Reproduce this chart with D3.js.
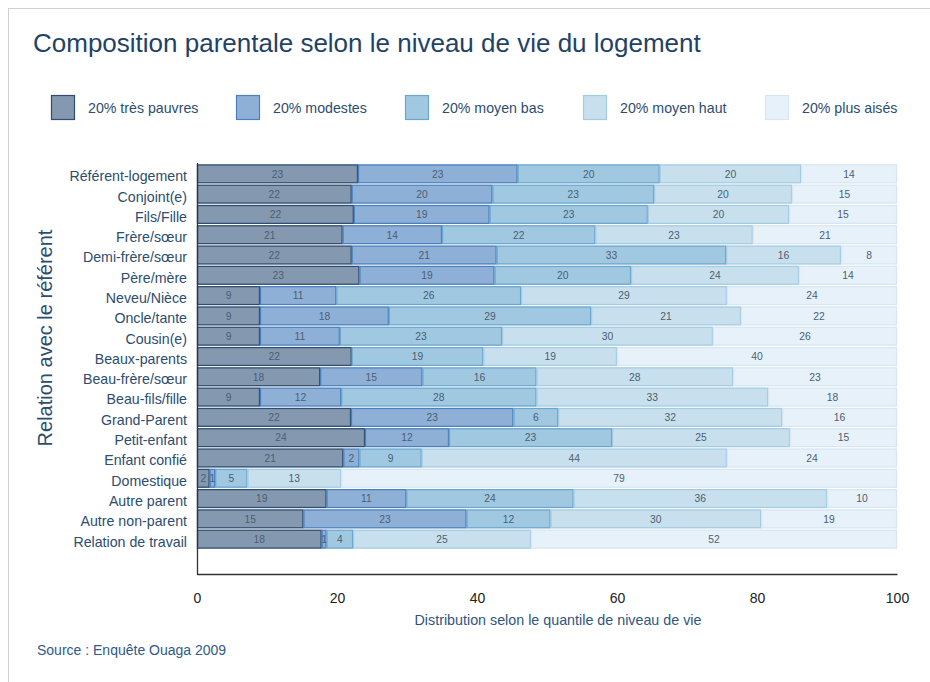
<!DOCTYPE html>
<html>
<head>
<meta charset="utf-8">
<script src="https://cdn.jsdelivr.net/npm/d3@7"></script>
<style>
  html, body { margin: 0; padding: 0; background: #fff; }
  svg { display: block; font-family: "Liberation Sans", Arial, sans-serif; }
</style>
</head>
<body>
<svg id="chart" width="930" height="682"></svg>
<script>
// Relationship to the household head
const categories = [
  "Référent-logement", "Conjoint(e)", "Fils/Fille", "Frère/sœur", "Demi-frère/sœur",
  "Père/mère", "Neveu/Nièce", "Oncle/tante", "Cousin(e)", "Beaux-parents",
  "Beau-frère/sœur", "Beau-fils/fille", "Grand-Parent", "Petit-enfant", "Enfant confié",
  "Domestique", "Autre parent", "Autre non-parent", "Relation de travail"
];

// Standard-of-living quintiles
const seriesNames = ["20% très pauvres", "20% modestes", "20% moyen bas", "20% moyen haut", "20% plus aisés"];

// Share (%) of each relationship group falling in each quintile
const tresPauvres = [23.0, 22.1, 22.4, 20.8, 22.1, 23.2, 9.0, 9.0, 9.0, 22.1, 17.6, 9.0, 22.0, 24.0, 20.9, 1.8, 18.5, 15.2, 17.8];
const modestes    = [22.8, 20.1, 19.4, 14.2, 20.7, 19.3, 10.9, 18.4, 11.4, 0.0, 14.6, 11.6, 23.2, 12.0, 2.3, 0.8, 11.4, 23.3, 0.7];
const moyenBas    = [20.3, 23.1, 22.6, 21.9, 32.8, 19.5, 26.4, 28.9, 23.2, 18.8, 16.3, 27.9, 6.4, 23.3, 8.9, 4.6, 23.9, 12.0, 3.8];
const moyenHaut   = [20.2, 19.7, 20.2, 22.5, 16.4, 24.0, 29.4, 21.4, 30.1, 19.1, 28.1, 33.1, 32.0, 25.4, 43.6, 13.4, 36.2, 30.1, 25.4];
const plusAises   = [13.7, 15.0, 15.4, 20.6, 8.0, 14.0, 24.3, 22.3, 26.3, 40.0, 23.4, 18.4, 16.4, 15.3, 24.3, 79.4, 10.0, 19.4, 52.3];

const xTicks = [0, 20, 40, 60, 80, 100];

const fills   = ["#8499b0", "#8fb0d6", "#a0c8e0", "#c8e0ee", "#e7f1f9"];
const strokes = ["#2e4d70", "#4a80bf", "#6aa6cf", "#a3cbe2", "#d6e6f2"];

const seriesValues = [tresPauvres, modestes, moyenBas, moyenHaut, plusAises];
const rows = categories.map((c, i) => {
  const r = { cat: c };
  seriesNames.forEach((s, k) => { r[s] = seriesValues[k][i]; });
  return r;
});
const stacked = d3.stack().keys(seriesNames)(rows);

const svg = d3.select("#chart");

// Card outline
svg.append("rect")
  .attr("x", 8.5).attr("y", 8.5)
  .attr("width", 940).attr("height", 700)
  .attr("fill", "none").attr("stroke", "#d0d0d0");

// Title
svg.append("text")
  .attr("x", 33).attr("y", 52)
  .attr("font-size", 26)
  .attr("fill", "#1f4266")
  .text("Composition parentale selon le niveau de vie du logement");

// Legend
const legendX = [51, 236, 405, 583, 765];
const legend = svg.append("g");
seriesNames.forEach((s, k) => {
  legend.append("rect")
    .attr("x", legendX[k] + 0.5).attr("y", 95.5)
    .attr("width", 23).attr("height", 24)
    .attr("fill", fills[k]).attr("stroke", strokes[k]).attr("stroke-width", 1.2);
  legend.append("text")
    .attr("x", legendX[k] + 37).attr("y", 113)
    .attr("font-size", 14.2).attr("fill", "#2c4d70")
    .text(s);
});

const x = d3.scaleLinear().domain([0, 100]).range([197, 897]);
const y = d3.scaleBand().domain(categories).range([164, 549]).paddingInner(0.07).paddingOuter(0.02);

// Stacked bars
const layers = svg.append("g").selectAll("g")
  .data(stacked).join("g")
  .attr("fill", (d, k) => fills[k])
  .attr("stroke", (d, k) => strokes[k]);

layers.selectAll("rect")
  .data(d => d.filter(p => p[1] - p[0] > 0))
  .join("rect")
  .attr("x", p => x(p[0]) + 0.5)
  .attr("y", p => y(p.data.cat) + 0.5)
  .attr("width", p => Math.max(0, x(p[1]) - x(p[0]) - 1))
  .attr("height", y.bandwidth() - 1)
  .attr("stroke-width", 1.3);

// Value labels
const labels = svg.append("g")
  .attr("font-size", 10.3).attr("fill", "#4b5e73").attr("text-anchor", "middle");
stacked.forEach(layer => {
  layer.filter(p => p[1] - p[0] > 0).forEach(p => {
    labels.append("text")
      .attr("x", (x(p[0]) + x(p[1])) / 2)
      .attr("y", y(p.data.cat) + y.bandwidth() / 2 + 3.8)
      .text(d3.format(".0f")(p[1] - p[0]));
  });
});

// Axes
const yAxis = svg.append("g")
  .attr("transform", "translate(197,0)")
  .call(d3.axisLeft(y).tickSize(0).tickPadding(10));
yAxis.select(".domain").remove();
yAxis.selectAll("text")
  .attr("font-size", 14.2).attr("fill", "#2c4d70").attr("dy", "0.52em")
  .attr("font-family", "Liberation Sans, Arial, sans-serif");

svg.append("line")
  .attr("x1", 197.5).attr("x2", 197.5).attr("y1", 163).attr("y2", 575)
  .attr("stroke", "#333").attr("stroke-width", 1.3);

const xAxis = svg.append("g")
  .attr("transform", "translate(0,574)")
  .call(d3.axisBottom(x).tickValues(xTicks).tickSize(0).tickPadding(19));
xAxis.select(".domain").attr("stroke", "#333").attr("stroke-width", 1.3);
xAxis.selectAll("text")
  .attr("font-size", 14).attr("fill", "#222")
  .attr("font-family", "Liberation Sans, Arial, sans-serif");

// Axis titles
svg.append("text")
  .attr("x", 558).attr("y", 625)
  .attr("text-anchor", "middle")
  .attr("font-size", 14.3).attr("fill", "#2f5580")
  .text("Distribution selon le quantile de niveau de vie");

svg.append("text")
  .attr("transform", "translate(52,338) rotate(-90)")
  .attr("text-anchor", "middle")
  .attr("font-size", 20).attr("fill", "#2c4d70")
  .text("Relation avec le référent");

// Source note
svg.append("text")
  .attr("x", 37).attr("y", 655)
  .attr("font-size", 14).attr("fill", "#2f5a8a")
  .text("Source : Enquête Ouaga 2009");
</script>
</body>
</html>
